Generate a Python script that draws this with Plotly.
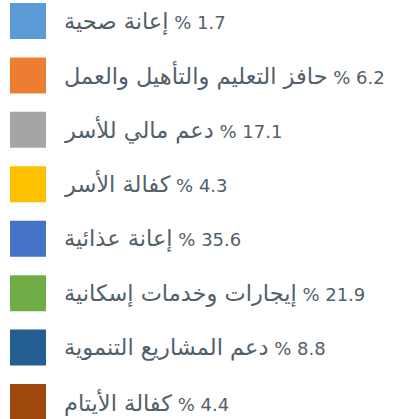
import plotly.graph_objects as go

categories = [
    "إعانة صحية",
    "حافز التعليم والتأهيل والعمل",
    "دعم مالي للأسر",
    "كفالة الأسر",
    "إعانة عذائية",
    "إيجارات وخدمات إسكانية",
    "دعم المشاريع التنموية",
    "كفالة الأيتام",
]
percentages = [1.7, 6.2, 17.1, 4.3, 35.6, 21.9, 8.8, 4.4]
colors = ["#5B9BD5", "#ED7D31", "#A5A5A5", "#FFC000", "#4472C4", "#70AD47", "#255E91", "#9E480E"]

idx = list(range(len(categories)))
labels = [f"<span style='font-size:22.5px'>{c}</span>\u200E % {p}" for c, p in zip(categories, percentages)]

fig = go.Figure()
fig.add_trace(go.Scatter(
    x=[28] * len(idx), y=idx, mode="markers",
    marker=dict(symbol="square", size=36, color=colors, line=dict(width=0)),
    hoverinfo="skip", showlegend=False,
))
for i, t in zip(idx, labels):
    fig.add_annotation(x=62, y=i, text=t, showarrow=False, xanchor="left", yanchor="middle",
                       font=dict(family="DejaVu Sans", size=18, color="#52606b"))

fig.update_layout(
    width=408, height=419, margin=dict(l=0, r=0, t=0, b=0),
    paper_bgcolor="white", plot_bgcolor="white",
    xaxis=dict(range=[0, 408], visible=False, fixedrange=True),
    yaxis=dict(range=[7.312, -0.386], visible=False, fixedrange=True),
)
fig.write_html("out.html", config={"displayModeBar": False},
               post_script="document.body.style.margin='0';")
